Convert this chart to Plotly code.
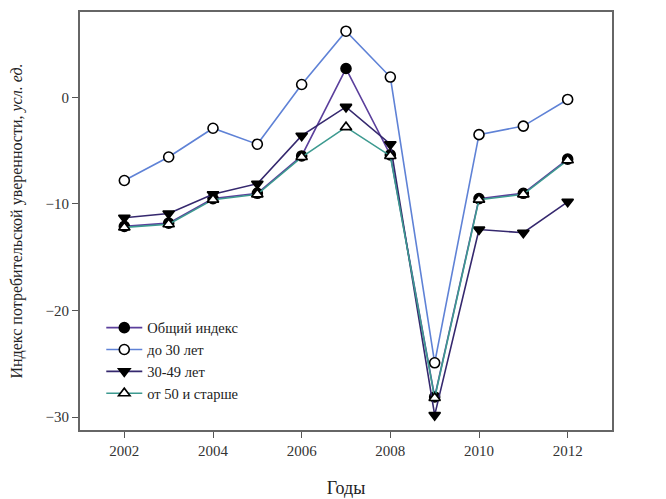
import plotly.graph_objects as go

years = [2002, 2003, 2004, 2005, 2006, 2007, 2008, 2009, 2010, 2011, 2012]
general = [-12.1, -11.8, -9.5, -9.0, -5.5, 2.7, -5.4, -28.1, -9.5, -9.0, -5.8]
under30 = [-7.8, -5.6, -2.9, -4.4, 1.2, 6.2, 1.9, -24.9, -3.5, -2.7, -0.2]
age30_49 = [-11.3, -10.9, -9.1, -8.1, -3.6, -0.9, -4.4, -29.8, -12.4, -12.7, -9.8]
over50 = [-12.2, -11.9, -9.6, -9.1, -5.6, -2.8, -5.5, -28.2, -9.6, -9.1, -5.9]

names = ["Общий индекс", "до 30 лет", "30-49 лет", "от 50 и старше"]
line_colors = ["#5b3f9c", "#5f82d6", "#35286e", "#3d9a90"]
symbols = ["circle", "circle", "triangle-down", "triangle-up"]
fills = ["black", "white", "black", "white"]
series = [general, under30, age30_49, over50]

fig = go.Figure()
for name, vals, lc, sym, fc in zip(names, series, line_colors, symbols, fills):
    fig.add_trace(go.Scatter(
        x=years, y=vals, name=name, mode="lines+markers",
        line=dict(color=lc, width=1.6),
        marker=dict(symbol=sym, size=10, color=fc, line=dict(color="black", width=1.6)),
    ))

fig.update_layout(
    width=666, height=499,
    margin=dict(l=72, r=62, t=4, b=77),
    paper_bgcolor="white", plot_bgcolor="white",
    font=dict(family="Liberation Serif", color="#333333", size=15),
    showlegend=True,
    legend=dict(x=0.04, y=0.283, xanchor="left", yanchor="top",
                bgcolor="rgba(0,0,0,0)", font=dict(family="Liberation Serif", size=14.5, color="#222222"),
                tracegroupgap=0, itemwidth=36),
    xaxis=dict(range=[2001, 2013], tickvals=[2002, 2004, 2006, 2008, 2010, 2012],
               ticks="outside", ticklen=6, tickcolor="#555555", showgrid=False, automargin=False,
               zeroline=False, showline=True, linecolor="#666666", linewidth=2, mirror=True,
               title=dict(text="Годы", font=dict(size=18, color="#222222"), standoff=23)),
    yaxis=dict(range=[-31.2, 8], tickvals=[0, -10, -20, -30],
               ticks="outside", ticklen=6, tickcolor="#555555", showgrid=False, automargin=False,
               zeroline=False, showline=True, linecolor="#666666", linewidth=2, mirror=True,
               title=dict(text="Индекс потребительской уверенности, <i>усл. ед.</i>",
                          font=dict(size=16, color="#222222"), standoff=20)),
)

fig.write_html("out.html")
